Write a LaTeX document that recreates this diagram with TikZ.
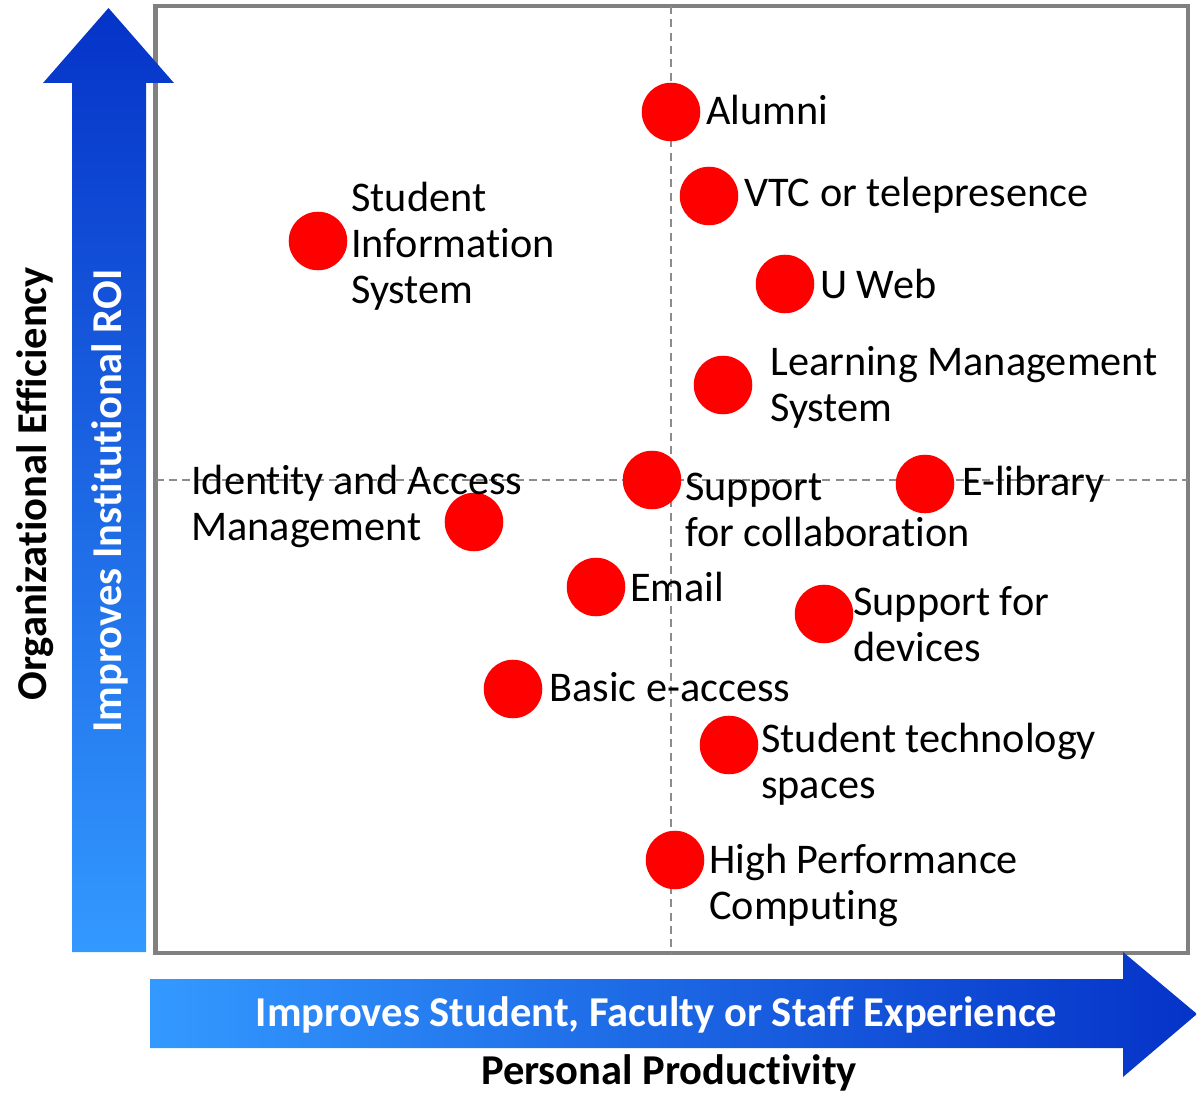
\documentclass[tikz,border=0pt]{standalone}
\usepackage{fontspec}
\setmainfont{Carlito}[Ligatures=NoCommon]
\definecolor{dkblue}{HTML}{0533C8}
\definecolor{ltblue}{HTML}{3399FF}
\definecolor{boxgray}{HTML}{808080}
\definecolor{dashgray}{HTML}{8C8C8C}
\definecolor{dotred}{HTML}{FF0000}
\begin{document}
\begin{tikzpicture}[x=0.75pt,y=-0.75pt,
  dot/.style={circle,fill=dotred,inner sep=0pt,minimum size=43.9pt},
  lbl/.style={anchor=west,align=left,inner sep=0pt,font=\fontsize{31.7}{34.5}\selectfont},
  axislbl/.style={inner sep=0pt,font=\bfseries\fontsize{31.9}{35}\selectfont},
  quadline/.style={dashgray,line width=1.5pt,dash pattern=on 6pt off 4pt},
  frame/.style={boxgray,line width=3.6pt}]
\useasboundingbox (0,0) rectangle (1197,1095);
% frame
\draw[frame] (155.5,6) rectangle (1188,953);
% quadrant lines
\coordinate (vt) at (671,6);
\coordinate (vb) at (671,953);
\coordinate (hl) at (155.5,480);
\coordinate (hr) at (1188,480);
\draw[quadline] (vt) -- (vb);
\draw[quadline] (hl) -- (hr);
% arrows
\shade[top color=dkblue,bottom color=ltblue]
  (72,952) -- (72,83) -- (43,83) -- (108.5,8) -- (174,83) -- (146,83) -- (146,952) -- cycle;
\shade[left color=ltblue,right color=dkblue]
  (150,979) -- (1123,979) -- (1123,952) -- (1197,1014) -- (1123,1077) -- (1123,1048) -- (150,1048) -- cycle;
\node[axislbl,rotate=90] (orgeff) at (35,484) {Organizational Efficiency};
\node[axislbl,rotate=90,white] (roi) at (110,501) {Improves Institutional ROI};
\node[axislbl,white] (exp) at (656.5,1015) {Improves Student, Faculty or Staff Experience};
\node[axislbl] (pp) at (669,1073) {Personal Productivity};
% dots
\node[dot] (d-alumni) at (671,112) {};
\node[dot] (d-vtc) at (709,196) {};
\node[dot] (d-uweb) at (785,284) {};
\node[dot] (d-lms) at (723,385) {};
\node[dot] (d-collab) at (652,480) {};
\node[dot] (d-elib) at (925,484) {};
\node[dot] (d-iam) at (474,522) {};
\node[dot] (d-email) at (596,587) {};
\node[dot] (d-dev) at (824,614) {};
\node[dot] (d-basic) at (513,689) {};
\node[dot] (d-spaces) at (729,745) {};
\node[dot] (d-hpc) at (675,860) {};
\node[dot] (d-sis) at (318,241) {};
% labels
\node[lbl] (l-alumni) at (706,110) {Alumni};
\node[lbl] (l-vtc) at (744,195) {VTC or telepresence};
\node[lbl] (l-uweb) at (820,284) {U Web};
\node[lbl] (l-lms) at (770,387) {Learning Management\\System};
\node[lbl] (l-collab) at (685,510) {Support\\for collaboration};
\node[lbl] (l-elib) at (962,484) {E-library};
\node[lbl] (l-iam) at (191,506) {Identity and Access\\Management};
\node[lbl] (l-email) at (630,587) {Email};
\node[lbl] (l-dev) at (853,624) {Support for\\devices};
\node[lbl] (l-basic) at (549,687) {Basic e-access};
\node[lbl] (l-spaces) at (761,764) {Student technology\\spaces};
\node[lbl] (l-hpc) at (709,885) {High Performance\\Computing};
\node[lbl] (l-sis) at (351,246) {Student\\Information\\System};
\end{tikzpicture}
\end{document}
